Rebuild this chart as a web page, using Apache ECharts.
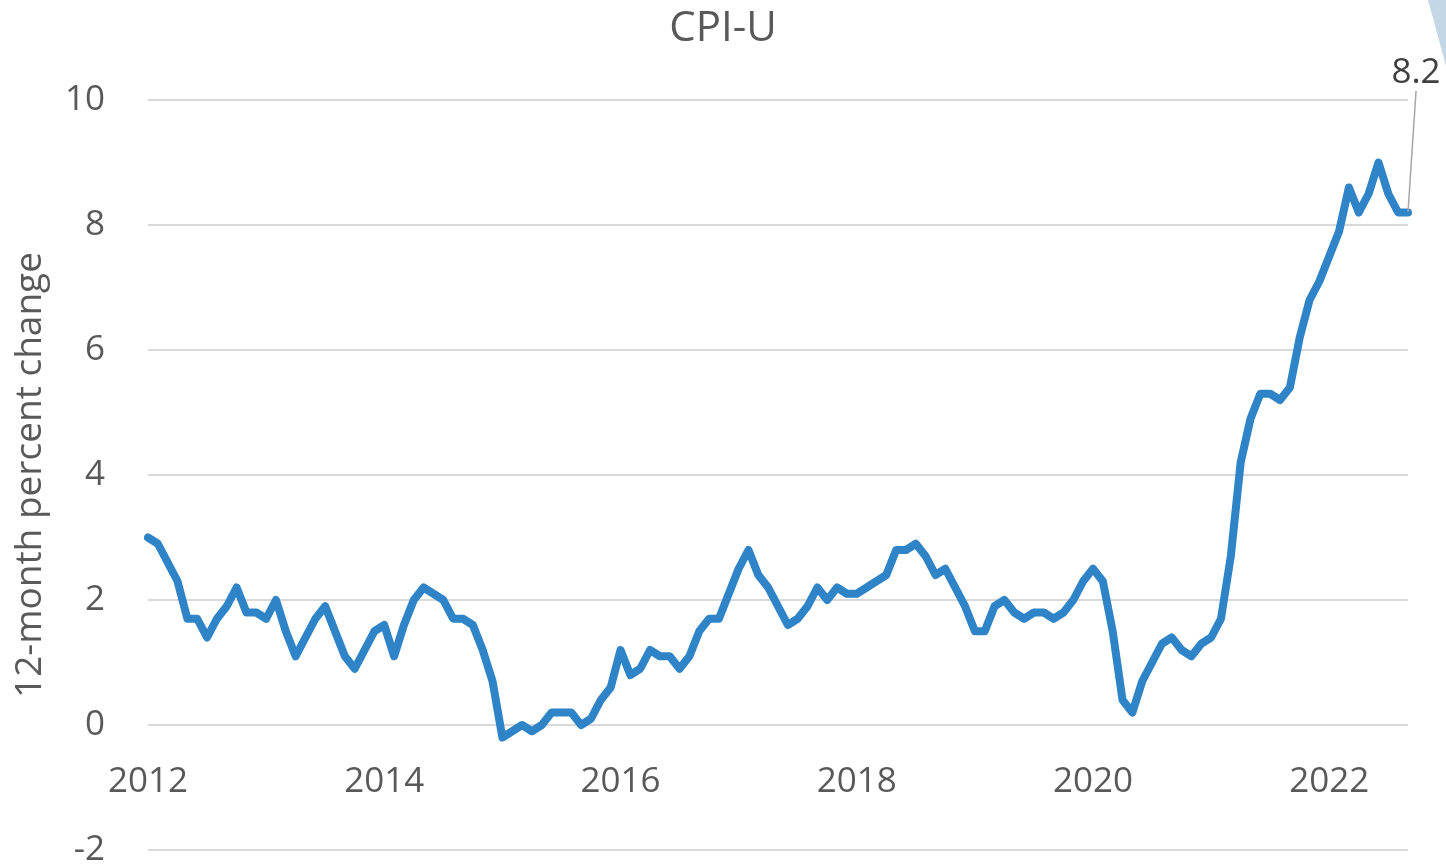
<!DOCTYPE html>
<html>
<head>
<meta charset="utf-8">
<script src="https://cdn.jsdelivr.net/npm/echarts@6/dist/echarts.min.js"></script>
<style>
  html, body { margin: 0; padding: 0; background: #fff; }
  #main { width: 1446px; height: 866px; }
</style>
</head>
<body>
<div id="main"></div>
<script>
// CPI-U, 12-month percent change, monthly Jan 2012 - Sep 2022
var years = [2012, 2013, 2014, 2015, 2016, 2017, 2018, 2019, 2020, 2021, 2022];
var cpi2012 = [3.0, 2.9, 2.6, 2.3, 1.7, 1.7, 1.4, 1.7, 1.9, 2.2, 1.8, 1.8];
var cpi2013 = [1.7, 2.0, 1.5, 1.1, 1.4, 1.7, 1.9, 1.5, 1.1, 0.9, 1.2, 1.5];
var cpi2014 = [1.6, 1.1, 1.6, 2.0, 2.2, 2.1, 2.0, 1.7, 1.7, 1.6, 1.2, 0.7];
var cpi2015 = [-0.2, -0.1, 0.0, -0.1, 0.0, 0.2, 0.2, 0.2, 0.0, 0.1, 0.4, 0.6];
var cpi2016 = [1.2, 0.8, 0.9, 1.2, 1.1, 1.1, 0.9, 1.1, 1.5, 1.7, 1.7, 2.1];
var cpi2017 = [2.5, 2.8, 2.4, 2.2, 1.9, 1.6, 1.7, 1.9, 2.2, 2.0, 2.2, 2.1];
var cpi2018 = [2.1, 2.2, 2.3, 2.4, 2.8, 2.8, 2.9, 2.7, 2.4, 2.5, 2.2, 1.9];
var cpi2019 = [1.5, 1.5, 1.9, 2.0, 1.8, 1.7, 1.8, 1.8, 1.7, 1.8, 2.0, 2.3];
var cpi2020 = [2.5, 2.3, 1.5, 0.4, 0.2, 0.7, 1.0, 1.3, 1.4, 1.2, 1.1, 1.3];
var cpi2021 = [1.4, 1.7, 2.7, 4.2, 4.9, 5.3, 5.3, 5.2, 5.4, 6.2, 6.8, 7.1];
var cpi2022 = [7.5, 7.9, 8.6, 8.2, 8.5, 9.0, 8.5, 8.2, 8.2];

var values = [].concat(cpi2012, cpi2013, cpi2014, cpi2015, cpi2016, cpi2017,
  cpi2018, cpi2019, cpi2020, cpi2021, cpi2022);

var months = [];
years.forEach(function (y) {
  for (var m = 1; m <= 12; m++) {
    if (months.length < values.length) months.push(y + '-' + (m < 10 ? '0' + m : m));
  }
});

var lastIdx = values.length - 1;
// only the last month gets a symbol (invisible) so its label can be drawn
var seriesData = values.map(function (v, i) {
  if (i === lastIdx) {
    return { value: v, symbol: 'circle', symbolSize: 1, label: { show: true } };
  }
  return v;
});

var font = 'Open Sans';
var txt = '#595959';

var chart = echarts.init(document.getElementById('main'));
chart.setOption({
  animation: false,
  title: {
    text: 'CPI-U',
    left: 'center',
    top: 3,
    textStyle: { fontFamily: font, fontSize: 42, fontWeight: 'normal', color: txt }
  },
  grid: { left: 148, right: 38, top: 100, bottom: 16, outerBoundsMode: 'none' },
  graphic: [{
    type: 'polygon',
    shape: { points: [[1428, 0], [1446, 0], [1446, 66]] },
    style: { fill: '#C3D7E6' }
  }],
  xAxis: {
    type: 'category',
    data: months,
    boundaryGap: false,
    position: 'bottom',
    offset: -125,
    axisLine: { show: false, onZero: false },
    axisTick: { show: false },
    axisLabel: {
      interval: 23,
      margin: 40,
      fontFamily: font,
      fontSize: 35,
      color: txt,
      formatter: function (v) { return v.slice(0, 4); }
    },
    splitLine: { show: false }
  },
  yAxis: {
    type: 'value',
    min: -2,
    max: 10,
    interval: 2,
    name: '12-month percent change',
    nameLocation: 'middle',
    nameRotate: 90,
    nameGap: 99,
    nameTextStyle: { fontFamily: font, fontSize: 37, color: txt },
    axisLine: { show: false },
    axisTick: { show: false },
    axisLabel: { margin: 43, fontFamily: font, fontSize: 35, color: txt },
    splitLine: { lineStyle: { color: '#d9d9d9', width: 2 } }
  },
  series: [{
    type: 'line',
    data: seriesData,
    symbol: 'none',
    showSymbol: true,
    showAllSymbol: true,
    lineStyle: { color: '#2E84C6', width: 8, join: 'round', cap: 'round' },
    itemStyle: { color: '#2E84C6' },
    label: {
      show: false,
      position: 'top',
      fontFamily: font,
      fontSize: 35,
      color: '#404040',
      formatter: function (p) { return p.value.toFixed(1); }
    },
    labelLayout: { dx: 8, dy: -116, hideOverlap: false },
    labelLine: { show: true, lineStyle: { color: '#a6a6a6', width: 1.5 } },
    emphasis: { disabled: true }
  }]
});
</script>
</body>
</html>
